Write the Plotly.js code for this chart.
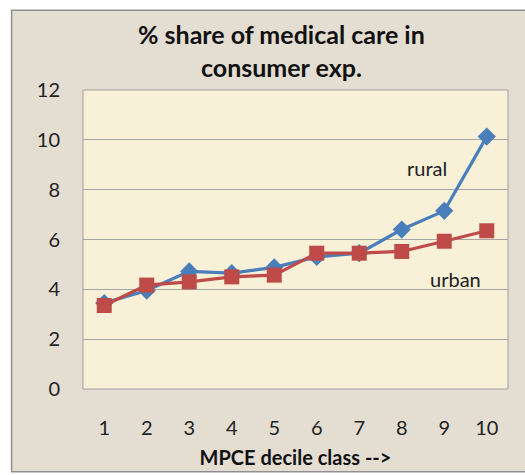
<!DOCTYPE html>
<html>
<head>
<meta charset="utf-8">
<script src="https://cdn.plot.ly/plotly-3.0.1.min.js"></script>
<style>html,body{margin:0;padding:0;background:#fff;}#chart{width:525px;height:475px;}</style>
</head>
<body>
<div id="chart"></div>
<script>
const deciles = [1, 2, 3, 4, 5, 6, 7, 8, 9, 10];
const rural = [3.45, 3.95, 4.72, 4.65, 4.88, 5.3, 5.45, 6.4, 7.15, 10.13];
const urban = [3.35, 4.17, 4.3, 4.5, 4.57, 5.45, 5.45, 5.52, 5.93, 6.35];
const yTicks = [0, 2, 4, 6, 8, 10, 12];

const font = "Lato, 'Open Sans', 'DejaVu Sans', sans-serif";

const traces = [
  {
    x: deciles, y: rural, name: 'rural', mode: 'lines+markers',
    line: {color: '#4A7EBB', width: 3.2},
    marker: {symbol: 'diamond', size: 14, color: '#4A7EBB'}
  },
  {
    x: deciles, y: urban, name: 'urban', mode: 'lines+markers',
    line: {color: '#BE4B48', width: 3.2},
    marker: {symbol: 'square', size: 15, color: '#BE4B48'}
  }
];

const layout = {
  width: 525, height: 475,
  margin: {l: 83, r: 17, t: 90, b: 86},
  paper_bgcolor: '#ffffff',
  plot_bgcolor: 'rgba(0,0,0,0)',
  showlegend: false,
  font: {family: font, color: '#222'},
  title: {
    text: '<b>% share of medical care in<br>consumer exp.</b>',
    font: {family: font, size: 25, color: '#111'},
    x: 0.536, xanchor: 'center', y: 0.907, yanchor: 'middle'
  },
  xaxis: {
    range: [0.5, 10.5], tickmode: 'array', tickvals: deciles,
    ticktext: deciles.map(String),
    showgrid: false, zeroline: false, showline: false, ticks: '',
    tickfont: {family: font, size: 20, color: '#222'},
    ticklabelstandoff: 25,
    title: {text: '<b>MPCE decile class --></b>', font: {family: font, size: 20, color: '#111'}, standoff: 12}
  },
  yaxis: {
    range: [0, 12], tickmode: 'array', tickvals: yTicks,
    showgrid: true, gridcolor: '#A6A6A6', gridwidth: 1,
    zeroline: false, showline: false, ticks: '',
    tickfont: {family: font, size: 20, color: '#222'},
    ticklabelstandoff: 22
  },
  shapes: [
    {type: 'rect', xref: 'paper', yref: 'paper', x0: -0.168, x1: 1.06, y0: -0.277, y1: 1.267,
     fillcolor: '#E4DDD2', line: {color: '#8F8F8F', width: 1.5}, layer: 'below'},
    {type: 'rect', xref: 'paper', yref: 'paper', x0: 0, x1: 1, y0: 0, y1: 1,
     fillcolor: '#F8F1D8', line: {color: '#A0A0A0', width: 1}, layer: 'below'}
  ],
  annotations: [
    {x: 8.6, y: 8.85, xref: 'x', yref: 'y', text: 'rural', showarrow: false,
     font: {family: font, size: 20, color: '#222'}},
    {x: 9.27, y: 4.4, xref: 'x', yref: 'y', text: 'urban', showarrow: false,
     font: {family: font, size: 20, color: '#222'}}
  ]
};

Plotly.newPlot('chart', traces, layout, {displayModeBar: false, staticPlot: true});
</script>
</body>
</html>
